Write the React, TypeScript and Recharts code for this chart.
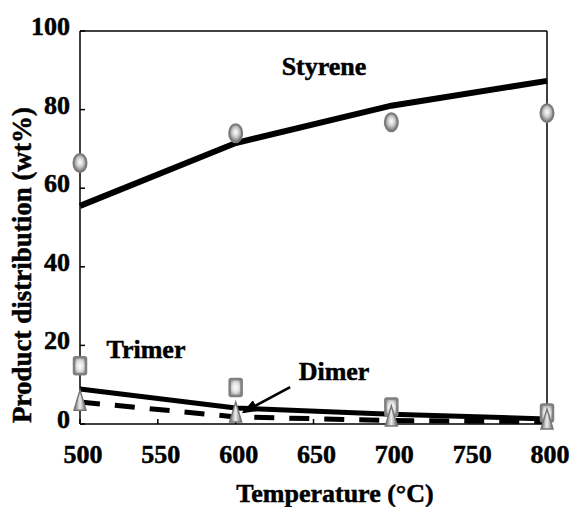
import React from 'react'
import { ComposedChart, Line, XAxis, YAxis, ReferenceLine, Customized } from 'recharts'

// temperatures (°C) and product yields (wt%)
const temperatures = [500, 600, 700, 800]
const styreneExp = [66.4, 74, 76.8, 79.1]
const styreneModel = [55.5, 71.5, 81, 87.3]
const trimerExp = [14.8, 9.3, 4.3, 2.8]
const trimerModel = [8.9, 4.1, 2.5, 1.3]
const dimerExp = [5.8, 2.8, 1.8, 1.0]
const dimerModel = [5.6, 1.8, 0.9, 0.6]

const xTicks = [500, 550, 600, 650, 700, 750, 800]
const yTicks = [0, 20, 40, 60, 80, 100]

// arrow pointing at the dimer curve, in data units
const dimerArrow = [
  { x: 635, y: 9.4 },
  { x: 605, y: 3.0 },
]

const data = temperatures.map((t, i) => ({
  t,
  styreneExp: styreneExp[i],
  styreneModel: styreneModel[i],
  trimerExp: trimerExp[i],
  trimerModel: trimerModel[i],
  dimerExp: dimerExp[i],
  dimerModel: dimerModel[i],
}))

const FONT = "'Liberation Serif', 'Times New Roman', serif"
const textStyle = { fontFamily: FONT, fontWeight: 700, fontSize: 26, fill: '#000', stroke: '#000', strokeWidth: 0.5 }

const renderXTick = (p: any) => (
  <text key={`xt-${p.index}`} x={p.x + 3} y={p.y + 18.5} textAnchor="middle" style={textStyle}>
    {p.payload.value}
  </text>
)

const renderYTick = (p: any) => (
  <text key={`yt-${p.index}`} x={p.x} y={p.y + 4} textAnchor="end" style={textStyle}>
    {p.payload.value}
  </text>
)

const BallDot = (p: any) =>
  p.cx == null ? <g key={p.index} /> : (
    <ellipse key={p.index} cx={p.cx} cy={p.cy} rx={6.5} ry={9} fill="url(#gBall)" stroke="#7a7a7a" strokeWidth={2} />
  )

const BoxDot = (p: any) =>
  p.cx == null ? <g key={p.index} /> : (
    <rect key={p.index} x={p.cx - 6} y={p.cy - 8.5} width={12} height={17} rx={1.5} fill="url(#gBox)" stroke="#808080" strokeWidth={2.5} />
  )

const TriDot = (p: any) =>
  p.cx == null ? <g key={p.index} /> : (
    <path
      key={p.index}
      d={`M${p.cx},${p.cy - 11} L${p.cx + 6},${p.cy + 9} L${p.cx - 6},${p.cy + 9} Z`}
      fill="url(#gTri)"
      stroke="#777"
      strokeWidth={1.5}
    />
  )

const yLabel = () => (
  <text x={22} y={265} transform="rotate(-90 22 265)" textAnchor="middle" dominantBaseline="central" style={{ ...textStyle, fontSize: 27 }}>
    Product distribution (wt%)
  </text>
)

const xLabel = () => (
  <text x={335} y={502} textAnchor="middle" style={textStyle}>
    Temperature (°C)
  </text>
)

const Annotations = () => (
  <g>
    <text x={324} y={75} textAnchor="middle" style={textStyle}>Styrene</text>
    <text x={146} y={358} textAnchor="middle" style={textStyle}>Trimer</text>
    <text x={334} y={380} textAnchor="middle" style={textStyle}>Dimer</text>
  </g>
)

export default function App() {
  return (
    <div style={{ position: 'absolute', left: 0, top: 0, width: 574, height: 507, background: '#fff' }}>
      <svg width={0} height={0} style={{ position: 'absolute' }}>
        <defs>
          <radialGradient id="gBall" cx="50%" cy="45%" r="55%">
            <stop offset="0%" stopColor="#ffffff" />
            <stop offset="45%" stopColor="#d0d0d0" />
            <stop offset="100%" stopColor="#6e6e6e" />
          </radialGradient>
          <radialGradient id="gBox" cx="50%" cy="50%" r="60%">
            <stop offset="0%" stopColor="#ffffff" />
            <stop offset="50%" stopColor="#e0e0e0" />
            <stop offset="100%" stopColor="#8a8a8a" />
          </radialGradient>
          <linearGradient id="gTri" x1="0" y1="0" x2="1" y2="0">
            <stop offset="0%" stopColor="#666" />
            <stop offset="50%" stopColor="#eee" />
            <stop offset="100%" stopColor="#666" />
          </linearGradient>
          <marker id="arrowHead" viewBox="0 0 16 12" refX="14" refY="6" markerWidth="16" markerHeight="12" orient="auto" markerUnits="userSpaceOnUse">
            <path d="M0,0 L16,6 L0,12 Z" fill="#000" />
          </marker>
        </defs>
      </svg>
      <ComposedChart width={574} height={507} data={data} margin={{ top: 31, right: 27, bottom: 0, left: 0 }}>
        <XAxis
          dataKey="t"
          type="number"
          domain={[500, 800]}
          ticks={xTicks}
          height={83}
          stroke="#000"
          strokeWidth={1.5}
          tickSize={-5}
          tickMargin={25}
          tick={renderXTick}
          label={xLabel}
        />
        <XAxis
          xAxisId="top"
          orientation="top"
          mirror
          type="number"
          domain={[500, 800]}
          ticks={xTicks}
          stroke="#000"
          strokeWidth={1.5}
          tickSize={5}
          tickFormatter={() => ''}
        />
        <YAxis
          type="number"
          domain={[0, 100]}
          ticks={yTicks}
          width={80}
          stroke="#000"
          strokeWidth={1.5}
          tickSize={-5}
          tickMargin={15}
          tick={renderYTick}
          label={yLabel}
        />
        <YAxis
          yAxisId="right"
          orientation="right"
          mirror
          type="number"
          domain={[0, 100]}
          ticks={yTicks}
          width={10}
          stroke="#000"
          strokeWidth={1.5}
          tickSize={5}
          tickFormatter={() => ''}
        />
        <Line dataKey="styreneModel" type="linear" stroke="#000" strokeWidth={6} dot={false} isAnimationActive={false} />
        <Line dataKey="trimerModel" type="linear" stroke="#000" strokeWidth={5} dot={false} isAnimationActive={false} />
        <Line dataKey="dimerModel" type="linear" stroke="#000" strokeWidth={5} strokeDasharray="20 15" dot={false} isAnimationActive={false} />
        <Line dataKey="styreneExp" stroke="none" dot={BallDot} activeDot={false} isAnimationActive={false} />
        <Line dataKey="trimerExp" stroke="none" dot={BoxDot} activeDot={false} isAnimationActive={false} />
        <Line dataKey="dimerExp" stroke="none" dot={TriDot} activeDot={false} isAnimationActive={false} />
        <ReferenceLine
          segment={dimerArrow}
          stroke="#000"
          strokeWidth={2.5}
          shape={(p: any) => (
            <line x1={p.x1} y1={p.y1} x2={p.x2} y2={p.y2} stroke="#000" strokeWidth={2.5} markerEnd="url(#arrowHead)" />
          )}
        />
        <Customized component={<Annotations />} />
      </ComposedChart>
    </div>
  )
}
